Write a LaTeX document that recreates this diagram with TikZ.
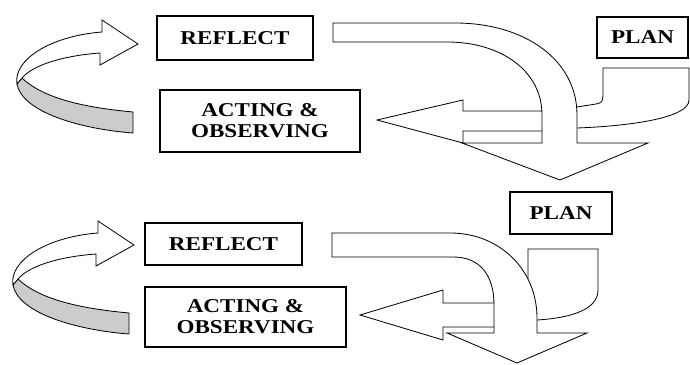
\documentclass[tikz,border=0pt]{standalone}
\usepackage{fontspec}
\setmainfont{Liberation Serif}[FakeStretch=1.18]
\definecolor{bandgray}{gray}{0.8}
\tikzset{
  stagebox/.style={draw, line width=1pt, align=center, inner sep=0pt,
    font=\fontsize{16.7}{18}\selectfont\bfseries},
  blockarrow/.style={draw, line width=0.7pt, fill=white, line join=miter},
  backband/.style={draw, line width=0.7pt, fill=bandgray},
}
\begin{document}
\begin{tikzpicture}[x=0.03cm, y=-0.03cm]
  \useasboundingbox (0,0) rectangle (690,365);

  % Twisted loops on the left
  \foreach \dx/\dy in {0/0,-4/201}
  {
    \begin{scope}[shift={(\dx,\dy)}]
      \draw[backband] (22,78) .. controls (45,100) and (90,108) .. (133,112)
        -- (133,133) .. controls (80,129) and (22,112) .. (17,84) -- cycle;
      \draw[blockarrow] (17,84) .. controls (13,60) and (50,36) .. (102,32)
        -- (102,20) -- (138,44) -- (100,65) -- (100,53)
        .. controls (60,56) and (32,66) .. (22,78) -- cycle;
    \end{scope}
  }

  % Nodes 1st cycle
  \node[stagebox, minimum width=4.68cm, minimum height=1.32cm] (reflect1) at (235,38) {REFLECT};
  \node[stagebox, minimum width=6cm, minimum height=1.86cm] (act1) at (260,121) {ACTING \&\\OBSERVING};
  \node[stagebox, minimum width=2.73cm, minimum height=1.23cm] (plan1) at (642.5,37.5) {PLAN};

  % Nodes 2nd cycle
  \node[stagebox, minimum width=4.71cm, minimum height=1.26cm] (reflect2) at (223.5,244) {REFLECT};
  \node[stagebox, minimum width=6.03cm, minimum height=1.8cm] (act2) at (245.5,317) {ACTING \&\\OBSERVING};
  \node[stagebox, minimum width=3.06cm, minimum height=1.26cm] (plan2) at (561,213) {PLAN};

  % Plan to acting, 1st cycle
  \draw[blockarrow] (377,120) -- (463,100) -- (463,111) -- (542,111) -- (577,107)
    -- (596,104) .. controls (602,103) and (603,101) .. (603,95) -- (603,68)
    -- (689,68) -- (689,100) .. controls (689,118) and (630,126) .. (577,128)
    -- (542,131) -- (463,131) -- (463,143) -- cycle;

  % Reflect down to next plan
  \draw[blockarrow] (333,23) -- (455,23) .. controls (525,23) and (577,60) .. (577,115)
    -- (577,143) -- (648,143) -- (560,180) -- (462,143) -- (542,143) -- (542,115)
    .. controls (542,70) and (500,42) .. (447,42) -- (333,42) -- cycle;

  % Plan to acting, 2nd cycle
  \draw[blockarrow] (360,315) -- (443,290) -- (443,303) -- (494,303) -- (528,290)
    -- (528,249) -- (598,249) -- (598,290) .. controls (598,310) and (570,318) .. (537,320)
    -- (494,327) -- (443,327) -- (443,340) -- cycle;

  % Reflect down, 2nd cycle
  \draw[blockarrow] (332,233) -- (450,233) .. controls (500,233) and (537,270) .. (537,318)
    -- (537,333) -- (587,333) -- (517,363) -- (447,333) -- (494,333) -- (494,305)
    .. controls (494,275) and (480,257) .. (453,257) -- (332,257) -- cycle;
\end{tikzpicture}
\end{document}
